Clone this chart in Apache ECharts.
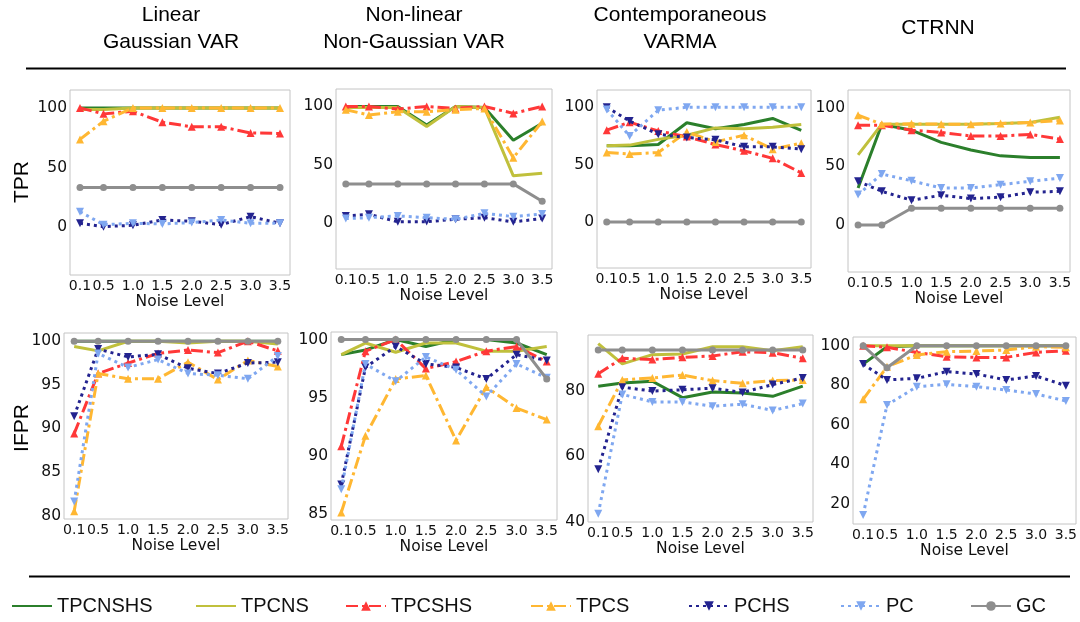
<!DOCTYPE html>
<html>
<head>
<meta charset="utf-8">
<script src="https://cdn.jsdelivr.net/npm/echarts@6/dist/echarts.min.js"></script>
<style>html,body{margin:0;padding:0;background:#fff}#c{width:1080px;height:622px}</style>
</head>
<body>
<div id="c"></div>
<script>
// ---------- data ----------
const noiseLevels = [0.1, 0.5, 1.0, 1.5, 2.0, 2.5, 3.0, 3.5];
const methods = ['TPCNSHS', 'TPCNS', 'TPCSHS', 'TPCS', 'PCHS', 'PC', 'GC'];
const columnTitles = ['Linear\nGaussian VAR', 'Non-linear\nNon-Gaussian VAR', 'Contemporaneous\nVARMA', 'CTRNN'];
const rowLabels = ['TPR', 'IFPR'];

// rows follow the order of `methods`
const tprLinear = [
  [100, 100, 100, 100, 100, 100, 100, 100],
  [98.6, 98.6, 100, 100, 100, 100, 100, 100],
  [100, 95, 97.2, 88, 84.2, 84.2, 79, 78.6],
  [73.6, 88.9, 100, 100, 100, 100, 100, 100],
  [3.3, 0.5, 1.7, 6.1, 5, 2.2, 8.9, 3.3],
  [13, 2.2, 3.3, 2.8, 3.9, 6.1, 3.3, 3.3],
  [33.3, 33.3, 33.3, 33.3, 33.3, 33.3, 33.3, 33.3]
];
const tprNonlinear = [
  [100, 100, 100, 84, 100, 99, 70.8, 85.5],
  [99, 99, 99, 82.7, 100, 99, 40.2, 42.5],
  [100, 100, 97.7, 100, 98.3, 100, 94, 100],
  [97.2, 92.6, 95.5, 95.5, 97.2, 98.3, 55.8, 87],
  [5.7, 7.1, 0.6, 0.8, 2.8, 4.2, 0.6, 3.4],
  [3.4, 4.2, 5.7, 4.2, 2.8, 7.9, 5.1, 7.4],
  [33.3, 33.3, 33.3, 33.3, 33.3, 33.3, 33.3, 18.4]
];
const tprVarma = [
  [66.4, 66.4, 67.5, 86.5, 81.3, 85, 90.2, 79.9],
  [66.4, 67, 72, 75.6, 82, 81.3, 82.5, 85],
  [80, 87, 79.3, 74.4, 67.5, 62, 55.5, 42.8],
  [60.6, 59.2, 60.6, 78.4, 69.8, 75.6, 63.5, 68.7],
  [100, 88, 76.4, 73.6, 71.6, 65.5, 65.5, 63.5],
  [98, 75, 97.4, 100, 100, 100, 100, 100],
  [0, 0, 0, 0, 0, 0, 0, 0]
];
const tprCtrnn = [
  [31.5, 85.9, 80.8, 70.4, 63.9, 58.9, 57.5, 57.5],
  [59.7, 85.9, 85.9, 85.9, 85.9, 86.5, 87.3, 91.8],
  [85, 85, 80.8, 78.9, 75.8, 75.8, 77.2, 73.2],
  [93.5, 85.9, 86.2, 85.9, 85.9, 86.5, 87.3, 89],
  [37.2, 28.7, 21.1, 25.4, 22.5, 23.7, 27.9, 28.7],
  [25.9, 43.4, 37.7, 31.5, 31.5, 34.4, 37.2, 40],
  [0, 0, 14.3, 14.3, 14.3, 14.3, 14.3, 14.3]
];
const ifprLinear = [
  [100, 100, 100, 100, 100, 100, 100, 100],
  [99.4, 98.9, 100, 100, 99.8, 100, 100, 99.7],
  [89.4, 96.3, 97.5, 98.6, 99, 98.7, 100, 98.9],
  [80.5, 96.3, 95.7, 95.7, 97.6, 95.6, 97.8, 97.1],
  [91.4, 99.1, 98.2, 98.5, 96.9, 96.3, 97.5, 97.6],
  [81.6, 98.6, 97, 97.9, 96.3, 96.1, 95.7, 98.3],
  [100, 100, 100, 100, 100, 100, 100, 100]
];
const ifprNonlinear = [
  [98.7, 99.1, 100, 99.4, 100, 100, 99.7, 98.7],
  [98.7, 99.7, 98.9, 99.7, 99.7, 99, 99, 99.4],
  [90.8, 99, 100, 97.5, 98.1, 99, 99.4, 98.1],
  [85.1, 91.7, 96.6, 96.9, 91.3, 95.9, 94.1, 93.1],
  [87.5, 97.6, 99.4, 97.9, 97.6, 96.6, 98.7, 98.2],
  [87.1, 97.9, 96.4, 98.5, 97.4, 95.1, 97.9, 96.7],
  [100, 100, 100, 100, 100, 100, 100, 96.6]
];
const ifprVarma = [
  [81.4, 82.4, 82.9, 77.9, 79.6, 79.3, 78.3, 81.4],
  [94.4, 88.2, 91, 91.2, 93.4, 93.4, 92.2, 93.4],
  [85.2, 89.9, 89.5, 90.2, 90.6, 91.9, 91.6, 89.9],
  [69.2, 83.3, 83.9, 84.8, 83.1, 82.3, 83.1, 83.3],
  [56.1, 81.1, 79.9, 80.3, 80.8, 79.5, 81.9, 83.9],
  [42.5, 78.9, 76.6, 76.6, 75.3, 75.9, 74, 76.1],
  [92.4, 92.4, 92.4, 92.4, 92.4, 92.4, 92.4, 92.4]
];
const ifprCtrnn = [
  [90.7, 99.5, 100, 100, 100, 100, 100, 100],
  [100, 100, 100, 100, 100, 100, 100, 100],
  [100, 99.2, 96.6, 94.4, 94.1, 94.1, 96.6, 97.5],
  [72.9, 89.4, 95.3, 97, 97.3, 97.8, 99.5, 99.2],
  [90.7, 82.7, 83.5, 86.9, 85.7, 82.7, 84.7, 79.8],
  [14.5, 70, 79.3, 80.5, 79.3, 77.6, 75.6, 72.1],
  [100, 88.9, 100, 100, 100, 100, 100, 100]
];

// y tick labels per panel
const ticksTPR = [0, 50, 100];
const ticksIfprLinear = [80, 85, 90, 95, 100];
const ticksIfprNonlinear = [85, 90, 95, 100];
const ticksIfprVarma = [40, 60, 80];
const ticksIfprCtrnn = [20, 40, 60, 80, 100];

// ---------- layout / style ----------
const panels = [
  {data: tprLinear, ticks: ticksTPR, yMin: -40, yMax: 115, g: {left: 70, top: 90, width: 220, height: 185}},
  {data: tprNonlinear, ticks: ticksTPR, yMin: -40, yMax: 115, g: {left: 336, top: 89, width: 216, height: 180}},
  {data: tprVarma, ticks: ticksTPR, yMin: -40, yMax: 115, g: {left: 597, top: 90, width: 214, height: 178}},
  {data: tprCtrnn, ticks: ticksTPR, yMin: -40, yMax: 115, g: {left: 848, top: 90, width: 222, height: 182}},
  {data: ifprLinear, ticks: ticksIfprLinear, yMin: 79.6, yMax: 100.95, g: {left: 64, top: 333, width: 224, height: 186}},
  {data: ifprNonlinear, ticks: ticksIfprNonlinear, yMin: 84.45, yMax: 100.65, g: {left: 331, top: 332, width: 226, height: 188}},
  {data: ifprVarma, ticks: ticksIfprVarma, yMin: 40, yMax: 97, g: {left: 588, top: 335, width: 225, height: 187}},
  {data: ifprCtrnn, ticks: ticksIfprCtrnn, yMin: 9.9, yMax: 104.4, g: {left: 853, top: 337, width: 223, height: 187}}
];

const dashDot = [12, 4, 3, 4];
const dotted = [3, 4];
const styles = {
  TPCNSHS: {color: '#2b7f2b', type: 'solid', symbol: 'none'},
  TPCNS:   {color: '#c0c03c', type: 'solid', symbol: 'none'},
  TPCSHS:  {color: '#ff3838', type: dashDot, symbol: 'triangle', rot: 0},
  TPCS:    {color: '#ffb732', type: dashDot, symbol: 'triangle', rot: 0},
  PCHS:    {color: '#23238f', type: dotted, symbol: 'triangle', rot: 180},
  PC:      {color: '#7fa7f0', type: dotted, symbol: 'triangle', rot: 180},
  GC:      {color: '#8e8e8e', type: 'solid', symbol: 'circle', rot: 0}
};

const tickFont = 'DejaVu Sans';
const textFont = 'Liberation Sans';

const grids = [], xAxes = [], yAxes = [], series = [];
panels.forEach((p, i) => {
  grids.push(Object.assign({show: true, borderColor: '#c4c4c4', borderWidth: 1, backgroundColor: 'transparent'}, p.g));
  xAxes.push({
    type: 'value', gridIndex: i, min: -0.07, max: 3.67,
    name: 'Noise Level', nameLocation: 'middle', nameGap: 19,
    nameTextStyle: {fontFamily: tickFont, fontSize: 15.5, color: '#111'},
    axisLine: {show: false}, axisTick: {show: false}, splitLine: {show: false},
    axisLabel: {customValues: noiseLevels, formatter: v => Number(v).toFixed(1), margin: 4,
      showMinLabel: true, showMaxLabel: true,
      fontFamily: tickFont, fontSize: 14, color: '#111', hideOverlap: false}
  });
  yAxes.push({
    type: 'value', gridIndex: i, min: p.yMin, max: p.yMax,
    axisLine: {show: false}, axisTick: {show: false}, splitLine: {show: false},
    axisLabel: {customValues: p.ticks, margin: 3, showMinLabel: true, showMaxLabel: true,
      fontFamily: tickFont, fontSize: 15.5, color: '#111'}
  });
  methods.forEach((m, k) => {
    const s = styles[m];
    series.push({
      name: m, type: 'line', xAxisIndex: i, yAxisIndex: i,
      data: noiseLevels.map((x, j) => [x, p.data[k][j]]),
      symbol: s.symbol, symbolSize: s.symbol === 'circle' ? 7 : 8, symbolRotate: s.rot || 0,
      showSymbol: s.symbol !== 'none',
      lineStyle: {color: s.color, width: 3, type: s.type},
      itemStyle: {color: s.color},
      emphasis: {disabled: true}, animation: false, z: 2 + k
    });
  });
});

const legendPos = [11, 195, 345, 530, 688, 840, 970];
const legends = methods.map((m, k) => ({
  data: [styles[m].symbol === 'none' ? {name: m, itemStyle: {opacity: 0}} : {name: m}],
  left: legendPos[k] - 5, top: 591, orient: 'horizontal',
  itemWidth: 40, itemHeight: 12, selectedMode: false,
  textStyle: {fontFamily: textFont, fontSize: 20, color: '#111'}
}));

const titleX = [171, 414, 680, 938];
const graphic = [];
columnTitles.forEach((t, i) => {
  graphic.push({type: 'text', x: titleX[i], y: 28.5,
    style: {text: t, fontFamily: textFont, fontSize: 21, lineHeight: 26.5, fill: '#000', align: 'center', verticalAlign: 'middle'}});
});
graphic.push({type: 'text', x: 22, y: 182, rotation: Math.PI / 2,
  style: {text: rowLabels[0], fontFamily: textFont, fontSize: 21, fill: '#000', align: 'center', verticalAlign: 'middle'}});
graphic.push({type: 'text', x: 22, y: 428, rotation: Math.PI / 2,
  style: {text: rowLabels[1], fontFamily: textFont, fontSize: 21, fill: '#000', align: 'center', verticalAlign: 'middle'}});
graphic.push({type: 'line', shape: {x1: 26, y1: 68.5, x2: 1066, y2: 68.5}, style: {stroke: '#000', lineWidth: 2}});
graphic.push({type: 'line', shape: {x1: 29, y1: 576.5, x2: 1070, y2: 576.5}, style: {stroke: '#000', lineWidth: 2}});

const chart = echarts.init(document.getElementById('c'), null, {renderer: 'canvas'});
chart.setOption({
  animation: false,
  backgroundColor: '#fff',
  grid: grids, xAxis: xAxes, yAxis: yAxes, series: series,
  legend: legends, graphic: graphic
});
</script>
</body>
</html>
